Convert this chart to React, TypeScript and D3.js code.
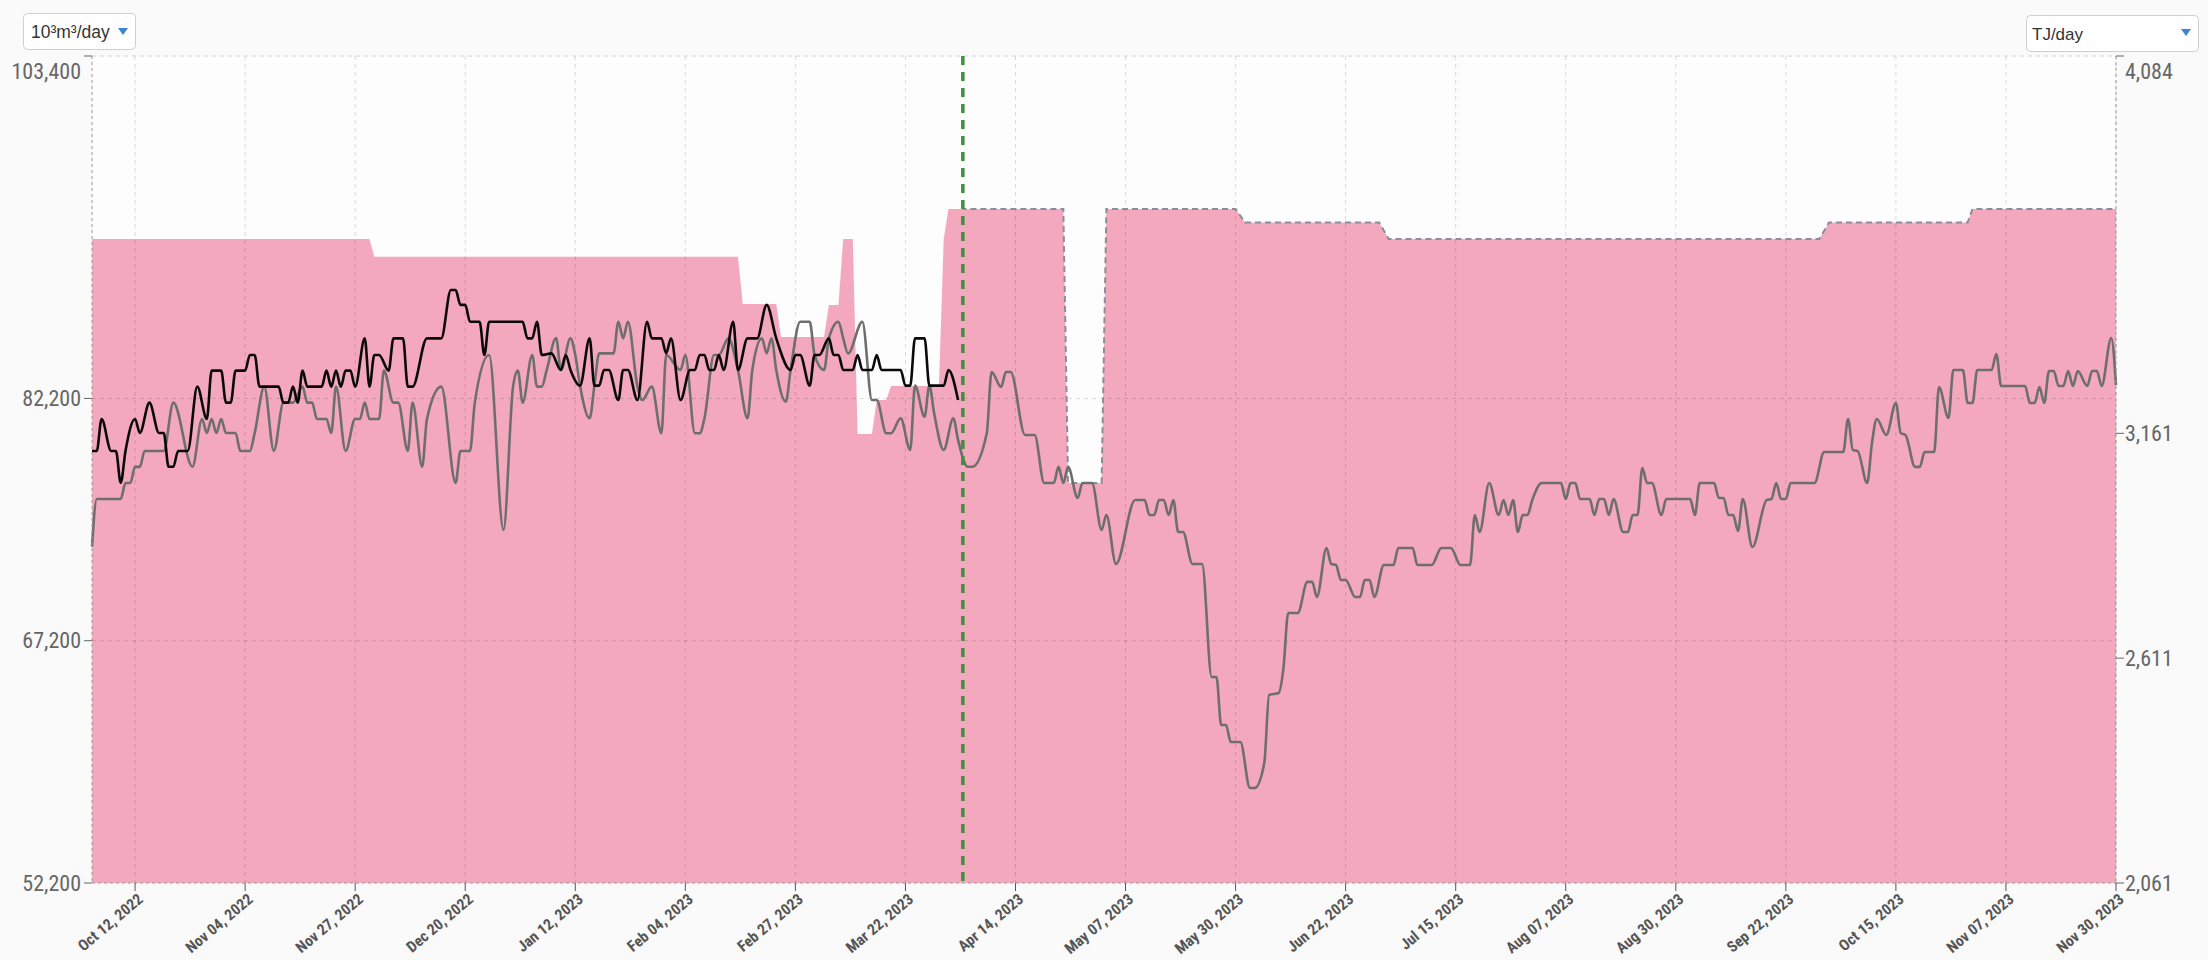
import React from "react";
import * as d3 from "d3";

type Pt = [string, number];

// Capacity (pink area), 10³m³/day
const capacity: Pt[] = [
  ["2022-10-03", 92070], ["2022-11-30", 92070], ["2022-12-01", 90970], ["2023-02-15", 90970],
  ["2023-02-16", 88050], ["2023-02-23", 88050], ["2023-02-24", 86000], ["2023-03-05", 86000],
  ["2023-03-06", 87990], ["2023-03-08", 87990], ["2023-03-09", 92070], ["2023-03-11", 92070],
  ["2023-03-12", 80000], ["2023-03-15", 80000], ["2023-03-16", 82100], ["2023-03-18", 82100],
  ["2023-03-19", 82970], ["2023-03-29", 82970], ["2023-03-30", 92070], ["2023-03-31", 93930],
  ["2023-04-24", 93930], ["2023-04-25", 76970], ["2023-05-02", 76970], ["2023-05-03", 93930],
  ["2023-05-30", 93930], ["2023-06-01", 93090], ["2023-06-29", 93090], ["2023-07-01", 92070],
  ["2023-09-29", 92070], ["2023-10-01", 93090], ["2023-10-30", 93090], ["2023-10-31", 93930],
  ["2023-11-30", 93930],
];

// Gray series (flow)
const flow: Pt[] = [
  ["2022-10-03",73020],["2022-10-04",75970],["2022-10-09",75970],["2022-10-10",76960],["2022-10-11",76960],["2022-10-12",77960],["2022-10-13",77960],["2022-10-14",78950],["2022-10-18",78950],["2022-10-20",81940],["2022-10-24",77970],["2022-10-26",80930],["2022-10-27",80060],["2022-10-28",80930],["2022-10-29",80060],["2022-10-30",80930],["2022-10-31",80060],["2022-11-02",80060],["2022-11-03",78950],["2022-11-05",78950],["2022-11-06",80060],["2022-11-08",82930],["2022-11-10",78950],["2022-11-12",81940],["2022-11-14",81940],["2022-11-16",82930],["2022-11-17",81940],["2022-11-18",81940],["2022-11-19",80930],["2022-11-21",80930],["2022-11-22",80060],["2022-11-23",82930],["2022-11-25",78950],["2022-11-27",80930],["2022-11-28",80930],["2022-11-29",81940],["2022-11-30",80930],["2022-12-02",80930],["2022-12-03",83920],["2022-12-05",81940],["2022-12-06",81940],["2022-12-08",78950],["2022-12-09",81940],["2022-12-11",77970],["2022-12-12",80930],["2022-12-15",82930],["2022-12-18",76980],["2022-12-19",78950],["2022-12-21",78950],["2022-12-22",81940],["2022-12-25",84890],["2022-12-28",74060],["2022-12-30",82930],["2022-12-31",83920],
  ["2023-01-01",81940],["2023-01-03",84890],["2023-01-04",82930],["2023-01-05",82930],["2023-01-06",83920],["2023-01-08",85940],["2023-01-09",83960],["2023-01-11",85920],["2023-01-12",84890],["2023-01-13",82990],["2023-01-15",80970],["2023-01-16",82990],["2023-01-17",84990],["2023-01-20",84990],["2023-01-21",86950],["2023-01-22",85920],["2023-01-23",86950],["2023-01-25",82930],["2023-01-26",82100],["2023-01-28",82930],["2023-01-30",80040],["2023-01-31",84890],["2023-02-03",83960],["2023-02-04",84890],["2023-02-06",80040],["2023-02-07",80040],["2023-02-08",80970],["2023-02-10",84890],["2023-02-11",84890],["2023-02-13",85920],["2023-02-15",83960],["2023-02-17",80970],["2023-02-18",83960],["2023-02-20",85920],["2023-02-21",84990],["2023-02-22",85920],["2023-02-23",83960],["2023-02-25",82000],["2023-02-26",83960],["2023-02-28",86950],["2023-03-02",86950],["2023-03-03",84890],["2023-03-05",83960],["2023-03-06",85920],["2023-03-08",86950],["2023-03-09",85920],["2023-03-10",84990],["2023-03-13",86950],["2023-03-15",82100],["2023-03-16",82100],["2023-03-18",80040],["2023-03-19",80040],["2023-03-21",80970],["2023-03-23",79010],["2023-03-24",82990],["2023-03-26",81070],["2023-03-27",82990],["2023-03-28",81280],["2023-03-30",79010],
  ["2023-04-01",80970],["2023-04-02",79630],["2023-04-04",77970],["2023-04-05",77970],["2023-04-08",80040],["2023-04-09",83840],["2023-04-11",82910],["2023-04-12",83840],["2023-04-13",83840],["2023-04-16",79940],["2023-04-18",79940],["2023-04-20",76960],["2023-04-22",76960],["2023-04-23",77960],["2023-04-24",76960],["2023-04-25",77960],["2023-04-27",76040],["2023-04-28",76960],["2023-04-30",76960],["2023-05-02",74060],["2023-05-03",74980],["2023-05-05",71950],["2023-05-09",75910],["2023-05-11",75910],["2023-05-12",74980],["2023-05-13",74980],["2023-05-14",75910],["2023-05-15",75910],["2023-05-16",74980],["2023-05-17",75910],["2023-05-18",73930],["2023-05-19",73930],["2023-05-21",71950],["2023-05-23",71950],["2023-05-25",64950],["2023-05-26",64950],["2023-05-27",61980],["2023-05-28",61980],["2023-05-29",60930],["2023-05-31",60930],["2023-06-02",58080],["2023-06-03",58080],["2023-06-05",59630],["2023-06-06",63840],["2023-06-08",63960],["2023-06-09",65500],["2023-06-10",68920],["2023-06-12",68920],["2023-06-14",70840],["2023-06-15",70840],["2023-06-16",69910],["2023-06-18",72940],["2023-06-19",71950],["2023-06-20",71890],["2023-06-21",70960],["2023-06-22",70960],["2023-06-24",69910],["2023-06-25",69910],["2023-06-26",70960],["2023-06-27",70960],["2023-06-28",69910],["2023-06-30",71890],
  ["2023-07-02",71890],["2023-07-03",72940],["2023-07-06",72940],["2023-07-07",71890],["2023-07-10",71890],["2023-07-12",72940],["2023-07-14",72940],["2023-07-16",71890],["2023-07-18",71890],["2023-07-19",74980],["2023-07-20",73930],["2023-07-22",76960],["2023-07-24",74980],["2023-07-25",75910],["2023-07-26",74980],["2023-07-27",75910],["2023-07-28",73930],["2023-07-29",74980],["2023-07-30",74980],["2023-07-31",75910],["2023-08-02",76960],["2023-08-06",76960],["2023-08-07",75970],["2023-08-08",76960],["2023-08-09",76960],["2023-08-10",75970],["2023-08-12",75970],["2023-08-13",74980],["2023-08-14",75970],["2023-08-15",75970],["2023-08-16",74980],["2023-08-17",75970],["2023-08-19",73930],["2023-08-20",73930],["2023-08-21",74980],["2023-08-22",74980],["2023-08-23",77890],["2023-08-24",76960],["2023-08-25",76960],["2023-08-27",74980],["2023-08-28",75970],["2023-09-02",75970],["2023-09-03",74980],["2023-09-04",76960],["2023-09-07",76960],["2023-09-08",76040],["2023-09-09",76040],["2023-09-10",74980],["2023-09-11",74980],["2023-09-12",73990],["2023-09-13",75970],["2023-09-15",73000],["2023-09-18",75910],["2023-09-19",75970],["2023-09-20",76960],["2023-09-21",75970],["2023-09-22",75970],["2023-09-23",76960],["2023-09-28",76960],["2023-09-30",78880],
  ["2023-10-04",78880],["2023-10-05",80930],["2023-10-06",79010],["2023-10-07",78950],["2023-10-09",76960],["2023-10-10",79440],["2023-10-11",80930],["2023-10-13",79940],["2023-10-15",81920],["2023-10-16",80060],["2023-10-17",79940],["2023-10-19",77960],["2023-10-20",77960],["2023-10-21",78880],["2023-10-23",78880],["2023-10-24",82910],["2023-10-26",80990],["2023-10-27",83960],["2023-10-29",83960],["2023-10-30",81920],["2023-10-31",81920],["2023-11-01",83960],["2023-11-04",83960],["2023-11-05",84950],["2023-11-06",82970],["2023-11-11",82970],["2023-11-12",81920],["2023-11-13",81920],["2023-11-14",82910],["2023-11-15",81920],["2023-11-16",83900],["2023-11-17",83900],["2023-11-18",82970],["2023-11-19",82970],["2023-11-20",83900],["2023-11-21",82970],["2023-11-22",83900],["2023-11-24",82970],["2023-11-25",83900],["2023-11-26",83900],["2023-11-27",82970],["2023-11-29",85940],["2023-11-30",83030],
];

// Black series (actual, until forecast start)
const actual: Pt[] = [
  ["2022-10-03",78950],["2022-10-04",78950],["2022-10-05",80930],["2022-10-07",78950],["2022-10-08",78950],["2022-10-09",76980],["2022-10-10",78950],["2022-10-12",80930],["2022-10-13",80060],["2022-10-15",81940],["2022-10-17",80060],["2022-10-18",80060],["2022-10-19",77970],["2022-10-20",77970],["2022-10-21",78950],["2022-10-23",78950],["2022-10-25",82930],["2022-10-27",80930],["2022-10-28",83920],["2022-10-30",83920],["2022-10-31",81940],["2022-11-01",81940],["2022-11-02",83920],["2022-11-04",83920],["2022-11-05",84890],["2022-11-06",84890],["2022-11-07",82930],["2022-11-11",82930],["2022-11-12",81940],["2022-11-13",81940],["2022-11-14",82930],["2022-11-15",81940],["2022-11-16",83920],["2022-11-17",82930],["2022-11-20",82930],["2022-11-21",83920],["2022-11-22",82930],["2022-11-23",83920],["2022-11-24",82930],["2022-11-25",83920],["2022-11-26",83920],["2022-11-27",82930],["2022-11-29",85920],["2022-11-30",82930],
  ["2022-12-01",84890],["2022-12-02",84890],["2022-12-04",83920],["2022-12-05",85920],["2022-12-07",85920],["2022-12-08",82930],["2022-12-09",82930],["2022-12-12",85920],["2022-12-15",85920],["2022-12-17",88910],["2022-12-18",88910],["2022-12-19",87990],["2022-12-20",87990],["2022-12-21",86950],["2022-12-23",86950],["2022-12-24",84890],["2022-12-25",86950],
  ["2023-01-01",86950],["2023-01-02",85920],["2023-01-03",85920],["2023-01-04",86950],["2023-01-05",84890],["2023-01-07",84990],["2023-01-09",83960],["2023-01-10",84890],["2023-01-11",83960],["2023-01-13",82990],["2023-01-15",85920],["2023-01-16",82990],["2023-01-17",82990],["2023-01-18",83960],["2023-01-19",83960],["2023-01-21",82100],["2023-01-22",83960],["2023-01-23",83960],["2023-01-25",82100],["2023-01-27",86950],["2023-01-28",85920],["2023-01-30",85920],["2023-01-31",84990],
  ["2023-02-01",85920],["2023-02-03",82100],["2023-02-05",83960],["2023-02-06",83960],["2023-02-07",84890],["2023-02-08",84890],["2023-02-09",83960],["2023-02-10",83960],["2023-02-11",84890],["2023-02-12",83960],["2023-02-14",86950],["2023-02-15",83960],["2023-02-17",85920],["2023-02-19",85920],["2023-02-21",87990],["2023-02-23",85920],["2023-02-26",83960],["2023-02-27",84890],["2023-02-28",84890],
  ["2023-03-02",82990],["2023-03-03",84890],["2023-03-04",84890],["2023-03-06",85920],["2023-03-07",84890],["2023-03-08",84890],["2023-03-09",83960],["2023-03-11",83960],["2023-03-12",84890],["2023-03-13",83960],["2023-03-15",83960],["2023-03-16",84890],["2023-03-17",83960],["2023-03-21",83960],["2023-03-22",82990],["2023-03-23",82990],["2023-03-24",85920],["2023-03-26",85920],["2023-03-27",82990],["2023-03-30",82990],["2023-03-31",83960],["2023-04-02",82100],
];

const xTickDates = [
  "2022-10-12","2022-11-04","2022-11-27","2022-12-20","2023-01-12","2023-02-04","2023-02-27",
  "2023-03-22","2023-04-14","2023-05-07","2023-05-30","2023-06-22","2023-07-15","2023-08-07",
  "2023-08-30","2023-09-22","2023-10-15","2023-11-07","2023-11-30",
];
const leftTicks = [52200, 67200, 82200, 103400];
const rightTicks = [2061, 2611, 3161, 4084];
const leftDomain = [52200, 103400];
const rightDomain = [2061, 4084];
const xDomain = ["2022-10-03", "2023-11-30"];
const forecastStart = "2023-04-03";

const parse = d3.timeParse("%Y-%m-%d");
const fmtDate = d3.timeFormat("%b %d, %Y");
const fmtNum = d3.format(",");

const W = 2208, H = 960;
const L = 92, R = 2116, T = 56, B = 883;
const AXIS_FONT = "'Liberation Sans Narrow', 'Roboto Condensed', 'Arial Narrow', 'Liberation Sans', Arial, sans-serif";
const UI_FONT = "'Liberation Sans', Arial, sans-serif";

export default function App() {
  const x = d3.scaleTime().domain(xDomain.map((s) => parse(s)!)).range([L, R]);
  const yL = d3.scaleLinear().domain(leftDomain).range([B, T]);
  const yR = d3.scaleLinear().domain(rightDomain).range([B, T]);
  const px = (d: Pt) => x(parse(d[0])!);

  const area = d3.area<Pt>().x(px).y0(B).y1((d) => yL(d[1])).curve(d3.curveLinear);
  const capLine = d3.line<Pt>().x(px).y((d) => yL(d[1])).curve(d3.curveLinear);
  const smooth = d3.line<Pt>().x(px).y((d) => yL(d[1])).curve(d3.curveMonotoneX);

  const fx = x(parse(forecastStart)!);
  const grid = "rgba(0,0,0,0.14)";

  return (
    <div style={{ position: "absolute", left: 0, top: 0, width: W, height: H }}>
      <svg width={W} height={H} style={{ display: "block", background: "#fafafa" }}>
        <defs>
          <clipPath id="fc">
            <rect x={fx} y={0} width={R - fx + 2} height={H} />
          </clipPath>
        </defs>
        <rect x={L} y={T} width={R - L} height={B - T} fill="#fdfdfd" />
        <path d={area(capacity)!} fill="#f4a8be" />
        {/* grid */}
        {xTickDates.map((s) => {
          const xx = x(parse(s)!);
          return <line key={s} x1={xx} x2={xx} y1={T} y2={B} stroke={grid} strokeDasharray="4,4" />;
        })}
        {leftTicks.filter((v) => v !== leftDomain[0] && v !== leftDomain[1]).map((v) => (
          <line key={v} x1={L} x2={R} y1={yL(v)} y2={yL(v)} stroke={grid} strokeDasharray="4,4" />
        ))}
        <line x1={L} x2={R} y1={T} y2={T} stroke="#d0d0d0" strokeDasharray="4,4" />
        {/* forecast capacity outline */}
        <path d={capLine(capacity)!} fill="none" stroke="#8c8c9a" strokeWidth={2} strokeDasharray="6,4" clipPath="url(#fc)" />
        {/* series */}
        <path d={smooth(flow)!} fill="none" stroke="#6e6e6e" strokeWidth={2.6} strokeLinejoin="round" />
        <path d={smooth(actual)!} fill="none" stroke="#0a0a0a" strokeWidth={2.6} strokeLinejoin="round" />
        {/* forecast marker */}
        <line x1={fx} x2={fx} y1={T} y2={B} stroke="#3f8f3f" strokeWidth={3.5} strokeDasharray="9,7" />
        {/* axes */}
        <line x1={L} x2={R} y1={B} y2={B} stroke="#999" strokeDasharray="3,3" />
        <line x1={L} x2={L} y1={T} y2={B} stroke="#999" strokeDasharray="3,3" />
        <line x1={R} x2={R} y1={T} y2={B} stroke="#999" strokeDasharray="3,3" />
        {xTickDates.map((s) => {
          const xx = x(parse(s)!);
          return (
            <g key={s}>
              <line x1={xx} x2={xx} y1={B} y2={B + 8} stroke="#555" />
              <text
                transform={`translate(${xx + 9},${B + 18}) rotate(-40)`}
                textAnchor="end"
                fontFamily={AXIS_FONT}
                fontWeight={700}
                fontSize={15.5}
                fill="#555"
              >
                {fmtDate(parse(s)!)}
              </text>
            </g>
          );
        })}
        {leftTicks.map((v) => {
          const yy = yL(v);
          const ty = v === leftDomain[1] ? yy + 15 : yy;
          return (
            <g key={v}>
              <line x1={L - 8} x2={L} y1={yy} y2={yy} stroke="#666" />
              <text x={L - 11} y={ty} dy="0.35em" textAnchor="end" fontFamily={AXIS_FONT} fontSize={22} fill="#666">
                {fmtNum(v)}
              </text>
            </g>
          );
        })}
        {rightTicks.map((v) => {
          const yy = yR(v);
          const ty = v === rightDomain[1] ? yy + 15 : yy;
          return (
            <g key={v}>
              <line x1={R} x2={R + 8} y1={yy} y2={yy} stroke="#666" />
              <text x={R + 9} y={ty} dy="0.35em" textAnchor="start" fontFamily={AXIS_FONT} fontSize={22} fill="#666">
                {fmtNum(v)}
              </text>
            </g>
          );
        })}
        {/* unit selectors */}
        <g>
          <rect x={23.5} y={13.5} width={112} height={36} rx={4} fill="#fff" stroke="#cfcfcf" />
          <text x={31} y={38} fontFamily={UI_FONT} fontSize={17.5} fill="#333">10³m³/day</text>
          <path d="M118,28 L128,28 L123,35 Z" fill="#3d85d0" />
        </g>
        <g>
          <rect x={2026.5} y={15.5} width={172} height={36} rx={4} fill="#fff" stroke="#cfcfcf" />
          <text x={2032} y={40} fontFamily={UI_FONT} fontSize={17} fill="#333">TJ/day</text>
          <path d="M2181,29 L2191,29 L2186,36 Z" fill="#3d85d0" />
        </g>
      </svg>
    </div>
  );
}
